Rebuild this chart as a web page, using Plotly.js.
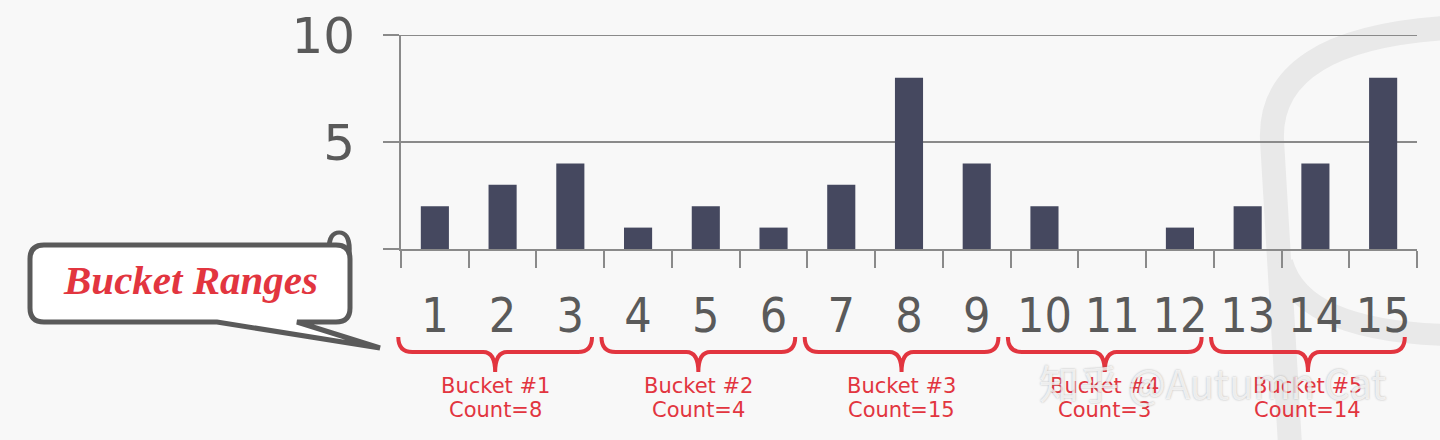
<!DOCTYPE html>
<html>
<head>
<meta charset="utf-8">
<script src="https://cdn.plot.ly/plotly-3.0.1.min.js"></script>
<style>html,body{margin:0;padding:0;background:#f8f8f8;}#chart{width:1440px;height:440px;}</style>
</head>
<body>
<div id="chart"></div>
<script>
// ---- data ----
const categories = ["1","2","3","4","5","6","7","8","9","10","11","12","13","14","15"];
const counts = [2, 3, 4, 1, 2, 1, 3, 8, 4, 2, 0, 1, 2, 4, 8];
const bucketNames = ["Bucket #1", "Bucket #2", "Bucket #3", "Bucket #4", "Bucket #5"];
const bucketCountLabels = ["Count=8", "Count=4", "Count=15", "Count=3", "Count=14"];
const bucketStart = [0, 3, 6, 9, 12];
const bucketSize = [3, 3, 3, 3, 3];
const yTicks = [0, 5, 10];

// ---- geometry helpers (pixel -> paper) ----
const W = 1440, H = 440;
const M = {l: 401, r: 23, t: 35, b: 191};
const PW = W - M.l - M.r, PH = H - M.t - M.b;
const CW = PW / categories.length;
const px = x => (x - M.l) / PW;
const py = y => (H - M.b - y) / PH;
function pathFromPx(cmds) {
  return cmds.map(c => {
    if (typeof c === 'string') return c;
    return px(c[0]).toFixed(5) + ',' + py(c[1]).toFixed(5);
  }).join(' ');
}

const red = '#e2353f';
const shapes = [];
const annotations = [];

// background watermark (database icon)
shapes.push({type:'path', xref:'paper', yref:'paper', layer:'below',
  path: pathFromPx(['M',[1445,28],'Q',[1268,40],[1272,140],'L',[1290,445]]),
  line:{color:'#e9e9e9', width:24}});
shapes.push({type:'path', xref:'paper', yref:'paper', layer:'below',
  path: pathFromPx(['M',[1282,262],'Q',[1300,330],[1445,335]]),
  line:{color:'#e9e9e9', width:22}});

// top gridline (range edge)
shapes.push({type:'line', xref:'paper', yref:'y', x0:0, x1:1, y0:yTicks[2], y1:yTicks[2],
  line:{color:'#8a8a8a', width:2}, layer:'below'});

// braces and bucket labels
bucketStart.forEach((s, g) => {
  const x0 = M.l + (s - 0.04) * CW;
  const x1 = M.l + (s + bucketSize[g] - 0.18) * CW;
  const xc = (x0 + x1) / 2;
  const yt = 337, yh = 352, ytip = 372;
  shapes.push({type:'path', xref:'paper', yref:'paper', layer:'above',
    path: pathFromPx(['M',[x0,yt],'Q',[x0,yh],[x0+14,yh],'L',[xc-12,yh],'Q',[xc,yh],[xc,ytip],
                      'Q',[xc,yh],[xc+12,yh],'L',[x1-14,yh],'Q',[x1,yh],[x1,yt]]),
    line:{color:red, width:4}});
  annotations.push({xref:'paper', yref:'paper', x:px(xc), y:py(386), text:bucketNames[g],
    showarrow:false, xanchor:'center', yanchor:'middle',
    font:{family:'DejaVu Sans', size:21, color:red}});
  annotations.push({xref:'paper', yref:'paper', x:px(xc), y:py(410), text:bucketCountLabels[g],
    showarrow:false, xanchor:'center', yanchor:'middle',
    font:{family:'DejaVu Sans', size:21, color:red}});
});

// callout bubble
shapes.push({type:'path', xref:'paper', yref:'paper', layer:'above',
  path: pathFromPx(['M',[44,245],'L',[336,245],'Q',[350,245],[350,259],'L',[350,308],'Q',[350,322],[336,322],
                    'L',[297,322],'L',[380,348],'L',[217,322],'L',[44,322],'Q',[30,322],[30,308],
                    'L',[30,259],'Q',[30,245],[44,245],'Z']),
  fillcolor:'#ffffff', line:{color:'#5a5a5a', width:5}});
annotations.push({xref:'paper', yref:'paper', x:px(190), y:py(280), text:'<b><i>Bucket Ranges</i></b>',
  showarrow:false, xanchor:'center', yanchor:'middle',
  font:{family:'Liberation Serif', size:41, color:red}});

// watermark text
annotations.push({xref:'paper', yref:'paper', x:px(1212), y:py(382), text:'知乎 @Autumn Cat',
  showarrow:false, xanchor:'center', yanchor:'middle',
  font:{family:'Noto Sans CJK SC', size:40, color:'rgba(255,255,255,0.75)', shadow:'0px 0px 2px rgba(90,90,90,0.6)'}});

const trace = {
  type:'bar', x: categories, y: counts,
  marker:{color:'#45485f', line:{width:0}},
  hoverinfo:'none'
};

const layout = {
  width: W, height: H,
  margin: M,
  paper_bgcolor:'#f8f8f8', plot_bgcolor:'rgba(0,0,0,0)',
  bargap: 0.585,
  showlegend:false,
  xaxis:{type:'category', showline:true, linecolor:'#8a8a8a', linewidth:2,
    ticks:'outside', tickson:'boundaries', ticklen:17, tickwidth:2, tickcolor:'#8a8a8a',
    ticklabelstandoff: 23, tickangle:0,
    tickfont:{family:'DejaVu Sans Condensed, DejaVu Sans', size:48, color:'#5a5a5a'}, showgrid:false, fixedrange:true},
  yaxis:{range:[0,10], tickvals:yTicks, ticktext:yTicks.map(String), showline:true, linecolor:'#8a8a8a', linewidth:2,
    ticks:'outside', ticklen:16, tickwidth:2, tickcolor:'#8a8a8a', ticklabelstandoff: 18,
    gridcolor:'#8a8a8a', gridwidth:2, zeroline:false,
    tickfont:{family:'DejaVu Sans', size:50, color:'#5a5a5a'}, fixedrange:true},
  shapes: shapes,
  annotations: annotations
};

Plotly.newPlot('chart', [trace], layout, {displayModeBar:false, staticPlot:true});
</script>
</body>
</html>
